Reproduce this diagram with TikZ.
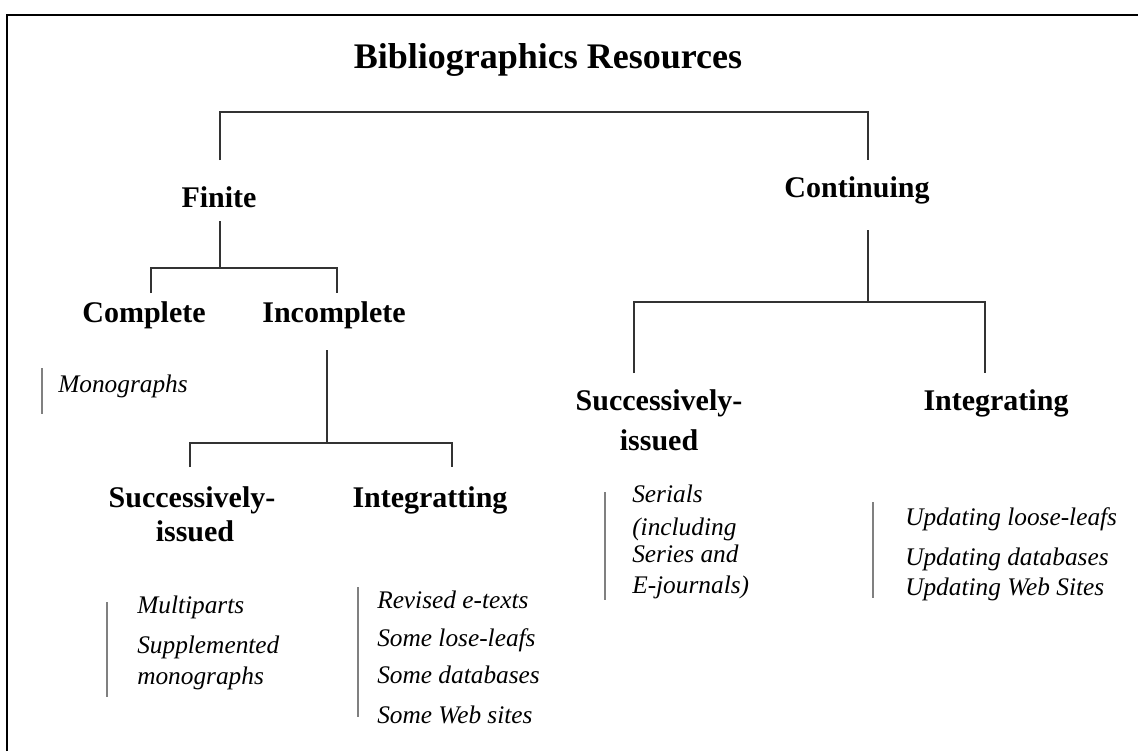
\documentclass[tikz,border=0pt]{standalone}
\usepackage{fontspec}
\setmainfont{Liberation Serif}
\begin{document}
\begin{tikzpicture}[x=0.75pt,y=-0.75pt,
  head/.style={inner sep=0pt,anchor=base,font=\bfseries\fontsize{22.5}{27}\selectfont},
  item/.style={inner sep=0pt,anchor=base west,font=\itshape\fontsize{19}{23}\selectfont},
  conn/.style={draw=black!80,line width=1.1pt},
  bar/.style={draw=black!50,line width=1.5pt},
  frame/.style={draw=black,line width=1.6pt}]
\useasboundingbox (0,0) rectangle (1138,751);
\fill[white] (0,0) rectangle (1138,751);
% frame
\draw[frame] (7,751) -- (7,15) -- (1138,15);
% title
\node[inner sep=0pt,anchor=base,font=\bfseries\fontsize{27}{32}\selectfont] (title) at (548,68) {Bibliographics Resources};
% level 1
\node[head] (finite) at (219,207) {Finite};
\node[head] (cont) at (857,197) {Continuing};
% level 2
\node[head] (complete) at (144,322) {Complete};
\node[head] (incomplete) at (334,322) {Incomplete};
\node[head] (rsucc1) at (659,410) {Successively-};
\node[head] (rsucc2) at (659,450) {issued};
\node[head] (rinteg) at (996,410) {Integrating};
% level 3
\node[head] (lsucc1) at (192,507) {Successively-};
\node[head] (lsucc2) at (195,541) {issued};
\node[head] (linteg) at (430,507) {Integratting};
% lists
\node[item] (mono) at (58,392) {Monographs};
\node[item] (multi) at (137,613) {Multiparts};
\node[item] (suppl) at (137,653) {Supplemented};
\node[item] (suppl2) at (137,684) {monographs};
\node[item] (rev) at (377,608) {Revised e-texts};
\node[item] (lose) at (377,646) {Some lose-leafs};
\node[item] (sdb) at (377,683) {Some databases};
\node[item] (sweb) at (377,723) {Some Web sites};
\node[item] (ser1) at (632,502) {Serials};
\node[item] (ser2) at (632,535) {(including};
\node[item] (ser3) at (632,562) {Series and};
\node[item] (ser4) at (632,593) {E-journals)};
\node[item] (upd1) at (905,525) {Updating loose-leafs};
\node[item] (upd2) at (905,565) {Updating databases};
\node[item] (upd3) at (905,595) {Updating Web Sites};
% connector coordinates
\coordinate (rootL) at (220,160);
\coordinate (rootR) at (868,160);
\coordinate (finB) at (220,221);
\coordinate (compT) at (151,293);
\coordinate (incT) at (337,293);
\coordinate (incB) at (327,350);
\coordinate (lsT) at (190,467);
\coordinate (liT) at (452,467);
\coordinate (contB) at (868,230);
\coordinate (rsT) at (634,373);
\coordinate (riT) at (985,373);
% connectors
\draw[conn] (rootL) -- (220,112) -- (868,112) -- (rootR);
\draw[conn] (finB) -- (220,268);
\draw[conn] (compT) -- (151,268) -- (337,268) -- (incT);
\draw[conn] (incB) -- (327,443);
\draw[conn] (lsT) -- (190,443) -- (452,443) -- (liT);
\draw[conn] (contB) -- (868,302);
\draw[conn] (rsT) -- (634,302) -- (985,302) -- (riT);
% bars
\draw[bar] (42,368) -- (42,414);
\draw[bar] (107,602) -- (107,697);
\draw[bar] (358,587) -- (358,717);
\draw[bar] (605,492) -- (605,600);
\draw[bar] (873,502) -- (873,598);
\end{tikzpicture}
\end{document}
